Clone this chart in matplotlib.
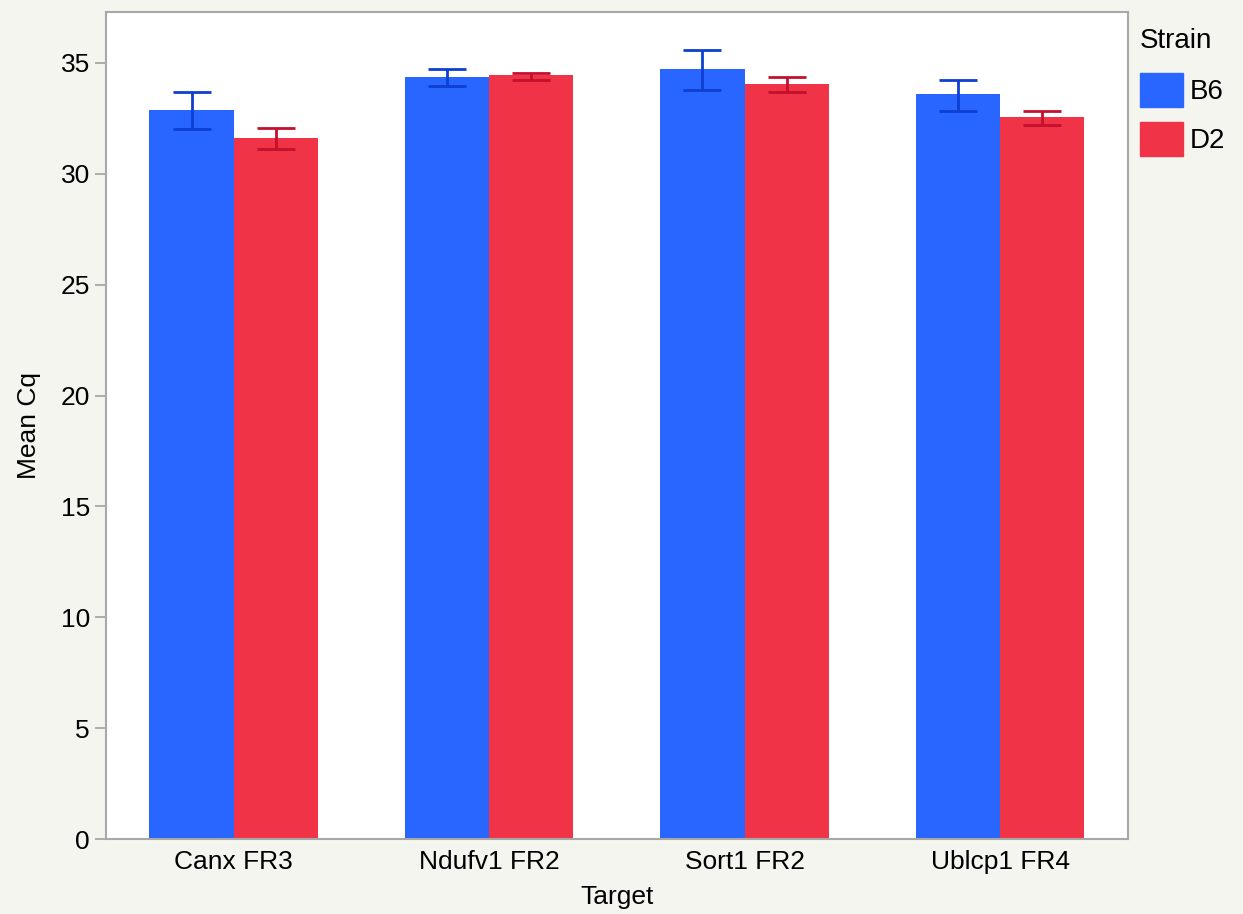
import numpy as np
import matplotlib.pyplot as plt
from matplotlib.patches import Patch

targets = ['Canx FR3', 'Ndufv1 FR2', 'Sort1 FR2', 'Ublcp1 FR4']
strains = ['B6', 'D2']
b6_mean = [32.88, 34.37, 34.73, 33.60]
b6_lo = [32.00, 33.97, 33.78, 32.84]
b6_hi = [33.69, 34.71, 35.59, 34.22]
d2_mean = [31.62, 34.46, 34.05, 32.57]
d2_lo = [31.13, 34.25, 33.68, 32.20]
d2_hi = [32.05, 34.56, 34.37, 32.82]


def main():
    plt.rcParams['font.family'] = ['Liberation Sans', 'DejaVu Sans']
    fig = plt.figure(figsize=(12.43, 9.14), dpi=100, facecolor='#f5f5f0')
    ax = fig.add_axes([0.0853, 0.082, 0.822, 0.905])
    ax.set_facecolor('white')

    index = np.arange(len(targets))
    w = 0.33
    colors = ['#2966ff', '#f03346']
    ecolors = ['#0d3fd0', '#c3102c']
    series = [(b6_mean, b6_lo, b6_hi), (d2_mean, d2_lo, d2_hi)]
    for i, (m, lo, hi) in enumerate(series):
        m = np.array(m)
        err = [m - np.array(lo), np.array(hi) - m]
        x = index + (i - 0.5) * w
        ax.bar(x, m, w, color=colors[i], label=strains[i], zorder=2)
        ax.errorbar(x, m, yerr=err, fmt='none', ecolor=ecolors[i],
                    elinewidth=2, capsize=14, capthick=2, zorder=3)

    ax.set_xlim(-0.5, 3.5)
    ax.set_ylim(0, 37.3)
    ax.set_yticks(range(0, 36, 5))
    ax.set_xticks(index)
    ax.set_xticklabels(targets)
    ax.tick_params(labelsize=19, length=8, color='#a0a0a0', width=1.2)
    ax.tick_params(axis='x', length=0, pad=8)
    for s in ax.spines.values():
        s.set_color('#a8a8a8')
        s.set_linewidth(1.5)
    ax.set_xlabel('Target', fontsize=19, labelpad=8)
    ax.set_ylabel('Mean Cq', fontsize=19, labelpad=14)

    handles = [Patch(color=c) for c in colors]
    leg = fig.legend(handles, strains, title='Strain', loc='upper left',
                     bbox_to_anchor=(0.897, 0.997), frameon=False, fontsize=20,
                     title_fontsize=20, handlelength=1.55, handleheight=1.52,
                     labelspacing=0.52, handletextpad=0.25, alignment='left')
    leg._legend_box.sep = 14

    fig.savefig('out.png', facecolor=fig.get_facecolor())


if __name__ == '__main__':
    main()
